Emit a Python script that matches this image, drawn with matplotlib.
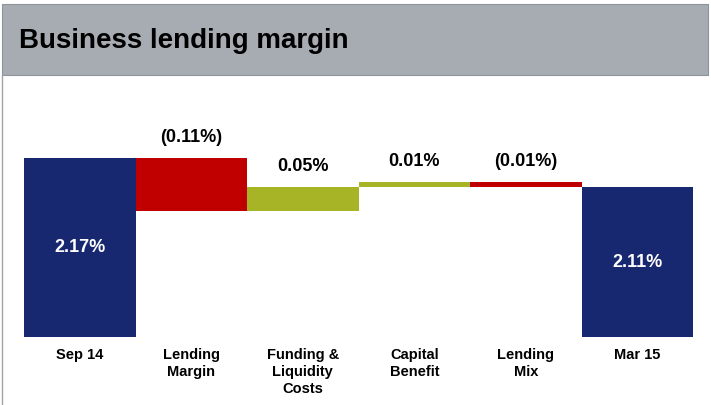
import matplotlib
matplotlib.use('Agg')
import matplotlib.pyplot as plt
from matplotlib.patches import Rectangle
from matplotlib.lines import Line2D

plt.rcParams['font.family'] = ['Liberation Sans', 'DejaVu Sans']

# data
categories = ['Sep 14', 'Lending\nMargin', 'Funding &\nLiquidity\nCosts', 'Capital\nBenefit', 'Lending\nMix', 'Mar 15']
start_value = 2.17
changes = [-0.11, 0.05, 0.01, -0.01]
end_value = 2.11
value_labels = ['2.17%', '(0.11%)', '0.05%', '0.01%', '(0.01%)', '2.11%']

navy = '#172870'
red = '#C00000'
green = '#A6B426'
grey = '#A6ACB2'

W, H = 711, 405
fig = plt.figure(figsize=(W / 100, H / 100), dpi=100, facecolor='w')

# slide frame: title bar + left border
fig.patches.append(Rectangle((2 / W, 1 - 75 / H), 706 / W, 71 / H, transform=fig.transFigure,
                             facecolor=grey, edgecolor='#8E949A', linewidth=0.8))
fig.lines.append(Line2D([2 / W, 2 / W], [0, 1 - 75 / H], transform=fig.transFigure,
                        color='#A0A4A8', linewidth=1.0))
fig.text(19 / W, 1 - 48 / H, 'Business lending margin', fontsize=20, fontweight='bold',
         color='black', va='baseline', ha='left')

ybase, ytop = 1.80, 2.30
ax = fig.add_axes([24 / W, (H - 337) / H, 669 / W, 241.5 / H])
ax.set_xlim(-0.5, 5.5)
ax.set_ylim(ybase, ytop)
ax.axis('off')

# totals
ax.bar(0, start_value - ybase, bottom=ybase, width=1.0, color=navy)
ax.bar(5, end_value - ybase, bottom=ybase, width=1.0, color=navy)
ax.text(0, (ybase + start_value) / 2, value_labels[0], color='white', fontsize=13,
        fontweight='bold', ha='center', va='center')
ax.text(5, (ybase + end_value) / 2, value_labels[5], color='white', fontsize=13,
        fontweight='bold', ha='center', va='center')

# steps
level = start_value
for i, c in enumerate(changes):
    x = i + 1
    new_level = level + c
    ax.bar(x, abs(c), bottom=min(level, new_level), width=1.0, color=red if c < 0 else green)
    ax.annotate(value_labels[x], (x, max(level, new_level)), xytext=(0, 15),
                textcoords='offset points', ha='center', va='center',
                fontsize=13, fontweight='bold', color='black')
    level = new_level

# category labels
for i, lab in enumerate(categories):
    ax.annotate(lab, (i, ybase), xytext=(0, -8), textcoords='offset points',
                ha='center', va='top', fontsize=10.5, fontweight='bold',
                linespacing=1.25, annotation_clip=False)

fig.savefig('out.png', dpi=100, facecolor='w')
